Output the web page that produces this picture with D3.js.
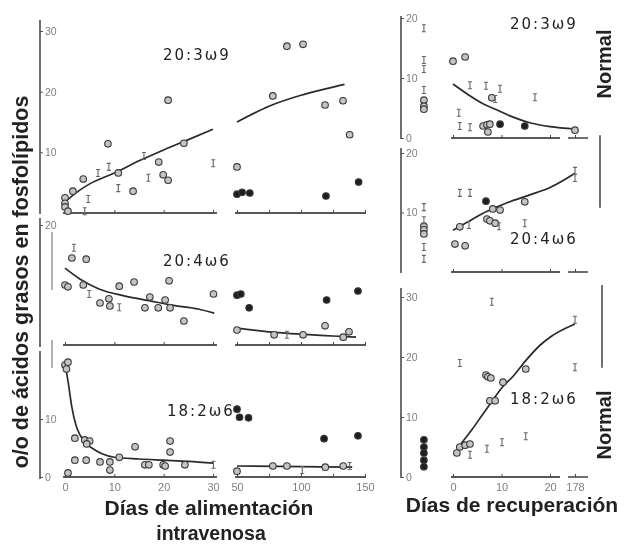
<!DOCTYPE html>
<html>
<head>
<meta charset="utf-8">
<script src="https://cdn.jsdelivr.net/npm/d3@7"></script>
<style>
body{margin:0;background:#fff}
svg{display:block;will-change:transform}
</style>
</head>
<body>
<svg id="svg" width="624" height="546"></svg>
<script>
// tick labels
var leftXTicks = [0,10,20,30,50,75,100,125,150];
var leftXLabels = [0,10,20,30,50,100,150];
var recXTicks = [0,10,20,178];

// intravenous feeding, [day, %, kind]  o = open, f = filled, g = glyph
var ac203Pts = [
  [0,2.5,'o'],[0,1.6,'o'],[0,1,'o'],[0.6,0.3,'o'],[4,0.3,'g'],[1.6,3.6,'o'],[4.7,2.3,'g'],[3.7,5.6,'o'],
  [6.7,6.6,'g'],[8.9,7.6,'g'],[8.7,11.4,'o'],[10.8,6.6,'o'],[10.8,4.1,'g'],[13.8,3.6,'o'],[16,9.4,'g'],
  [16.9,5.8,'g'],[19,8.4,'o'],[19.9,6.3,'o'],[20.9,5.4,'o'],[20.9,18.6,'o'],[24.1,11.5,'o'],[30.2,8.2,'g'],
  [50,7.6,'o'],[78,19.3,'o'],[89,27.5,'o'],[101.6,27.8,'o'],[118.8,17.8,'o'],[132.8,18.5,'o'],[138,12.9,'o'],
  [50,3.1,'f'],[54,3.4,'f'],[60,3.3,'f'],[119.5,2.8,'f'],[145,5.1,'f']
];
var ac203FitA = [[0,1.8],[2,3.2],[5,4.8],[10,6.6],[15,8.6],[20,10.4],[25,12.1],[30,13.8]];
var ac203FitB = [[50,15],[75,17.6],[100,19.4],[120,20.5],[134,21.2]];

var ac204Pts = [
  [1.8,16.2,'g'],[1.4,14.5,'o'],[4.3,14.3,'o'],[0,10,'o'],[0.6,9.7,'o'],[3.7,10,'o'],[4.9,8.5,'g'],
  [7.1,7,'o'],[8.9,7.7,'o'],[9.1,6.5,'o'],[11,6.3,'g'],[11,9.8,'o'],[14,10.5,'o'],[17.2,8,'o'],[16.2,6.2,'o'],
  [18.9,6.2,'o'],[20.3,7.5,'o'],[21.3,6.2,'o'],[21.1,10.7,'o'],[24.1,4,'o'],[30.4,8.5,'o'],
  [50,8.3,'f'],[53,8.5,'f'],[59.5,6.2,'f'],[120,7.5,'f'],[144.5,9,'f'],
  [50,2.5,'o'],[79,1.7,'o'],[89,1.7,'g'],[101.6,1.7,'o'],[118.8,3.2,'o'],[133,1.3,'o'],[137.5,2.2,'o']
];
var ac204FitA = [[0,12.8],[3,11],[7,9.3],[12,8.2],[17,7.4],[22,6.6],[27,6],[31,5.3]];
var ac204FitB = [[50,2.8],[75,2.2],[100,1.8],[125,1.5],[143,1.3]];

var ac182Pts = [
  [0,19.3,'o'],[0.6,19.8,'o'],[0.3,18.6,'o'],[2,6.7,'o'],[4,6.4,'o'],[5,6.2,'o'],[4.4,5.7,'o'],
  [14.2,5.2,'o'],[21.3,6.2,'o'],[21.3,4.3,'o'],[2,2.9,'o'],[4.3,2.9,'o'],[7.1,2.6,'o'],[9.1,2.6,'o'],[9.1,1.2,'o'],
  [11,3.4,'o'],[16.2,2.1,'o'],[17,2.1,'o'],[19.9,2.1,'o'],[20.3,1.9,'o'],[24.3,2.1,'o'],[0.6,0.7,'o'],[30.4,2.1,'g'],
  [50,11.7,'f'],[52,10.3,'f'],[59,10.2,'f'],[118,6.6,'f'],[144.5,7.1,'f'],
  [50,1,'o'],[78,1.9,'o'],[89,1.9,'o'],[101,1.2,'g'],[119,1.7,'o'],[133,1.9,'o'],[138,1.9,'g']
];
var ac182FitA = [[0,19.7],[0.7,16],[1.4,12],[2.2,9],[3,7.3],[4.4,5.7],[6,4.7],[7.5,4],[10,3.4],[15,3.1],[20,2.9],[25,2.7],[30.5,2.4]];
var ac182FitB = [[50,1.9],[100,1.8],[140,1.7]];

// recovery (x = -6 are the values before recovery)
var rec203Pts = [
  [0,12.8,'o'],[2.5,13.5,'o'],[3.5,8.8,'g'],[6.8,8.7,'g'],[9.7,8.2,'g'],[8,6.7,'o'],[8.7,6.5,'g'],[16.9,6.8,'g'],
  [1.2,4.2,'g'],[1.4,2,'g'],[3.5,1.8,'g'],[6.2,2,'o'],[7,2.2,'o'],[7.6,2.3,'o'],[7.2,1,'o'],[9.7,2.3,'f'],[14.8,2,'f'],
  [178,1.3,'o'],
  [-6,18.3,'g'],[-6,13,'g'],[-6,11.5,'g'],[-6,8,'g'],[-6,6.3,'o'],[-6,5.3,'o'],[-6,4.8,'o']
];
var rec203Fit = [[0,9],[3,7.3],[6,5.8],[9,4.7],[12,3.6],[16,2.5],[20,1.9],[178,1.5]];

var rec204Pts = [
  [1.4,13.3,'g'],[3.5,13.3,'g'],[6.8,11.9,'f'],[14.8,11.8,'o'],[8.2,10.6,'o'],[9.7,10.4,'o'],[7,8.9,'o'],[7.6,8.6,'o'],
  [8.7,8.2,'o'],[9.5,7.7,'g'],[3.3,7.9,'g'],[1.4,7.6,'o'],[14.8,8.2,'g'],[0.4,4.7,'o'],[2.5,4.4,'o'],
  [178,17,'g'],[178,15.8,'g'],
  [-6,10.9,'g'],[-6,8.7,'g'],[-6,7.7,'o'],[-6,7.1,'o'],[-6,6.4,'o'],[-6,4.2,'g'],[-6,2.2,'g']
];
var rec204Fit = [[0,7],[3,8.4],[6,9.8],[9,10.9],[12,11.9],[16,13],[20,14.2],[178,16.6]];

var rec182Pts = [
  [8,29.2,'g'],[178,26.2,'g'],[178,18.3,'g'],[1.4,19,'g'],[6.8,17,'o'],[7.2,16.7,'o'],[7.8,16.5,'o'],[10.3,15.8,'o'],
  [15,18,'o'],[7.6,12.7,'o'],[8.7,12.7,'o'],[10.1,5.8,'g'],[15,6.8,'g'],[7,4.7,'g'],[1.4,5,'o'],[2.5,5.3,'o'],
  [3.5,5.5,'o'],[0.8,4,'o'],[3.5,3.7,'g'],
  [-6,6.2,'f'],[-6,5,'f'],[-6,4,'f'],[-6,2.8,'f'],[-6,1.7,'f']
];
var rec182Fit = [[1.6,5.5],[4,8],[6,10.3],[8.2,12.8],[10,14.8],[12.4,16.8],[15,19.4],[18,22],[20,23.3],[178,25.5]];

// normal ranges drawn at the right edge
var normal204 = [10.8, 23];
var normal182 = [18.2, 32];

var svg = d3.select("#svg");
var ink = "#222";
var font = "'Liberation Sans', Arial, sans-serif";

var xLeft = d3.scaleLinear().domain([0,30,50,150]).range([65,213,237,365]);
var xRec = d3.scaleLinear().domain([0,20,178]).range([453,550,575]);

// small "I"-like mark used for the hand-drawn glyph points
var glyph = "M-2,-3.5h4M0,-3.5v7M-2,3.5h4";

function drawPanel(o) {
  var g = svg.append("g");
  var y0 = o.y(0);

  // y axis line
  g.append("line")
    .attr("x1", o.axX).attr("x2", o.axX)
    .attr("y1", o.axTop).attr("y2", o.axBot)
    .attr("stroke", ink).attr("stroke-width", 1.3);

  var ya = d3.axisRight(o.y)
    .tickValues(o.yLabels)
    .tickSize(3).tickPadding(2);
  var yg = g.append("g").attr("transform", "translate(" + o.axX + ",0)").call(ya);
  yg.select(".domain").remove();
  yg.selectAll("line").attr("stroke", "#555");
  yg.selectAll("text").attr("font-family", font).attr("font-size", 10.5).attr("fill", "#808080");

  // x axis segments
  o.xSegs.forEach(function(s){
    g.append("line")
      .attr("x1", s[0]).attr("x2", s[1])
      .attr("y1", y0).attr("y2", y0)
      .attr("stroke", ink).attr("stroke-width", 1.3);
  });

  var xa = d3.axisBottom(o.x)
    .tickValues(o.xTicks)
    .tickSizeInner(-3).tickSizeOuter(0).tickPadding(6)
    .tickFormat(function(d){ return (o.xLabels && o.xLabels.indexOf(d) >= 0) ? d : ""; });
  var xg = g.append("g").attr("transform", "translate(0," + y0 + ")").call(xa);
  xg.select(".domain").remove();
  xg.selectAll("line").attr("stroke", "#444");
  xg.selectAll("text").filter(function(){ return this.textContent === ""; }).remove();
  xg.selectAll("text").attr("font-family", font).attr("font-size", 11).attr("fill", "#808080");

  // fitted curves
  var line = d3.line()
    .x(function(d){ return o.x(d[0]); })
    .y(function(d){ return o.y(d[1]); })
    .curve(d3.curveMonotoneX);
  o.fits.forEach(function(f){
    g.append("path").datum(f)
      .attr("d", line)
      .attr("fill", "none")
      .attr("stroke", "#2a2a2a")
      .attr("stroke-width", 1.7);
  });

  // points
  g.selectAll("circle.pt")
    .data(o.pts.filter(function(d){ return d[2] !== 'g'; }))
    .enter().append("circle")
    .attr("class", "pt")
    .attr("cx", function(d){ return o.x(d[0]); })
    .attr("cy", function(d){ return o.y(d[1]); })
    .attr("r", 3.3)
    .attr("fill", function(d){ return d[2] === 'f' ? "#1e1e1e" : "#c4c4c4"; })
    .attr("stroke", "#3a3a3a")
    .attr("stroke-width", 1.1);

  g.selectAll("path.gl")
    .data(o.pts.filter(function(d){ return d[2] === 'g'; }))
    .enter().append("path")
    .attr("class", "gl")
    .attr("transform", function(d){ return "translate(" + o.x(d[0]) + "," + o.y(d[1]) + ")"; })
    .attr("d", glyph)
    .attr("fill", "none")
    .attr("stroke", "#666")
    .attr("stroke-width", 1.1);

  // panel label
  g.append("text")
    .attr("x", o.lab[0]).attr("y", o.lab[1])
    .attr("font-family", "'DejaVu Sans', sans-serif")
    .attr("font-size", 15)
    .attr("letter-spacing", "2px")
    .attr("fill", ink)
    .text(o.name);
}

var leftSegs = [[63,217],[235,366]];
var recSegs = [[451,560],[568,588]];

drawPanel({name:"20:3ω9", lab:[163,60], pts:ac203Pts, fits:[ac203FitA, ac203FitB],
  x:xLeft, y:d3.scaleLinear().domain([0,30]).range([213,31]),
  axX:40, axTop:20, axBot:214, yLabels:[10,20,30],
  xSegs:leftSegs, xTicks:leftXTicks});

drawPanel({name:"20:4ω6", lab:[163,266], pts:ac204Pts, fits:[ac204FitA, ac204FitB],
  x:xLeft, y:d3.scaleLinear().domain([0,20]).range([345,225]),
  axX:40, axTop:218, axBot:347, yLabels:[20],
  xSegs:leftSegs, xTicks:leftXTicks});

drawPanel({name:"18:2ω6", lab:[167,416], pts:ac182Pts, fits:[ac182FitA, ac182FitB],
  x:xLeft, y:d3.scaleLinear().domain([0,10]).range([477,419]),
  axX:40, axTop:351, axBot:479, yLabels:[0,10],
  xSegs:leftSegs, xTicks:leftXTicks, xLabels:leftXLabels});

drawPanel({name:"20:3ω9", lab:[510,29], pts:rec203Pts, fits:[rec203Fit],
  x:xRec, y:d3.scaleLinear().domain([0,20]).range([138,18]),
  axX:401, axTop:16, axBot:139, yLabels:[0,10,20],
  xSegs:recSegs, xTicks:recXTicks});

drawPanel({name:"20:4ω6", lab:[510,244], pts:rec204Pts, fits:[rec204Fit],
  x:xRec, y:d3.scaleLinear().domain([0,20]).range([272,153]),
  axX:401, axTop:148, axBot:273, yLabels:[10,20],
  xSegs:recSegs, xTicks:recXTicks});

drawPanel({name:"18:2ω6", lab:[510,404], pts:rec182Pts, fits:[rec182Fit],
  x:xRec, y:d3.scaleLinear().domain([0,30]).range([477,297]),
  axX:401, axTop:288, axBot:478, yLabels:[0,10,20,30],
  xSegs:recSegs, xTicks:recXTicks, xLabels:recXTicks});

// short stray axis marks on the left
[[232,290],[340,368]].forEach(function(s){
  svg.append("line").attr("x1",52).attr("x2",52).attr("y1",s[0]).attr("y2",s[1])
    .attr("stroke","#666").attr("stroke-width",1);
});

// normal ranges
var yR2 = d3.scaleLinear().domain([0,20]).range([272,153]);
var yR3 = d3.scaleLinear().domain([0,30]).range([477,297]);
svg.append("line").attr("x1",600).attr("x2",600)
  .attr("y1",yR2(normal204[0])).attr("y2",yR2(normal204[1]))
  .attr("stroke",ink).attr("stroke-width",1.3);
svg.append("line").attr("x1",602).attr("x2",602)
  .attr("y1",yR3(normal182[0])).attr("y2",yR3(normal182[1]))
  .attr("stroke",ink).attr("stroke-width",1.3);

// "Normal" labels
[[611,64],[611,425]].forEach(function(p){
  svg.append("text")
    .attr("transform","translate("+p[0]+","+p[1]+") rotate(-90)")
    .attr("text-anchor","middle")
    .attr("font-family",font).attr("font-weight","bold").attr("font-size",20)
    .attr("fill",ink)
    .text("Normal");
});

// axis titles
svg.append("text")
  .attr("transform","translate(28,282) rotate(-90)")
  .attr("text-anchor","middle")
  .attr("font-family",font).attr("font-weight","bold").attr("font-size",21.5)
  .attr("fill",ink)
  .text("o/o de ácidos grasos en fosfolípidos");

svg.append("text")
  .attr("x",209).attr("y",515)
  .attr("text-anchor","middle")
  .attr("font-family",font).attr("font-weight","bold").attr("font-size",21)
  .attr("fill",ink)
  .text("Días de alimentación");

svg.append("text")
  .attr("x",211).attr("y",540)
  .attr("text-anchor","middle")
  .attr("font-family",font).attr("font-weight","bold").attr("font-size",19.5)
  .attr("fill",ink)
  .text("intravenosa");

svg.append("text")
  .attr("x",512).attr("y",512)
  .attr("text-anchor","middle")
  .attr("font-family",font).attr("font-weight","bold").attr("font-size",21)
  .attr("fill",ink)
  .text("Días de recuperación");
</script>
</body>
</html>
